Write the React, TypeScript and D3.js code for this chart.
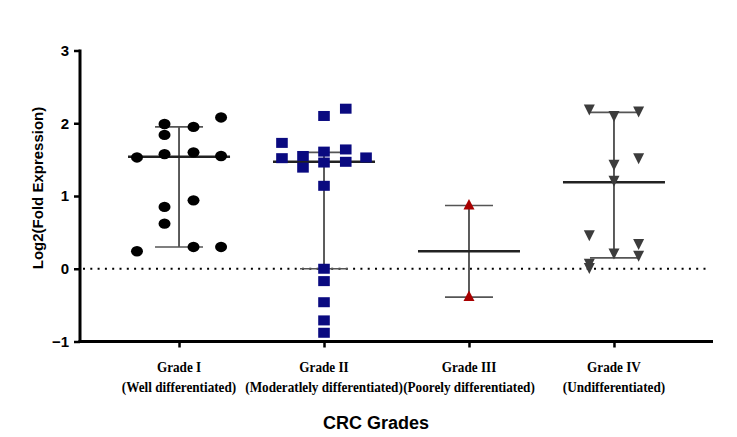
import { useEffect, useRef } from 'react';
import * as d3 from 'd3';

// ==========================================
// DATA
// ==========================================
const grades = ['Grade I', 'Grade II', 'Grade III', 'Grade IV'];
const gradeSubtitles = [
  '(Well differentiated)',
  '(Moderatlely differentiated)',
  '(Poorely differentiated)',
  '(Undifferentiated)',
];

// values per group, with the scatter column each point sits in (fraction of a step)
const grade1Values = [2.08, 1.99, 1.95, 1.84, 1.53, 1.575, 1.6, 1.55, 0.94, 0.85, 0.62, 0.24, 0.3, 0.3];
const grade1Jitter = [0.29, -0.1, 0.1, -0.1, -0.29, -0.1, 0.1, 0.29, 0.1, -0.1, -0.1, -0.29, 0.1, 0.29];

const grade2Values = [2.2, 2.1, 1.73, 1.52, 1.55, 1.39, 1.61, 1.46, 1.64, 1.47, 1.53, 1.14, 0.0, -0.17, -0.46, -0.71, -0.88];
const grade2Jitter = [0.15, 0, -0.29, -0.29, -0.145, -0.145, 0, 0, 0.15, 0.15, 0.29, 0, 0, 0, 0, 0, 0];

const grade3Values = [0.87, -0.39];
const grade3Jitter = [0, 0];

const grade4Values = [2.19, 2.1, 2.16, 1.43, 1.52, 1.21, 0.46, 0.34, 0.21, 0.18, 0.07, 0.01];
const grade4Jitter = [-0.17, 0, 0.17, 0, 0.17, 0, -0.17, 0.17, 0, 0.17, -0.17, -0.17];

// median line and error bar ends
const centerValues = [1.54, 1.47, 0.24, 1.19];
const lowValues = [0.3, 0.0, -0.39, 0.15];
const highValues = [1.95, 1.6, 0.87, 2.15];

const yTicks = [-1, 0, 1, 2, 3];

const App = () => {
  const svgRef = useRef<SVGSVGElement>(null);

  useEffect(() => {
    const width = 737;
    const height = 437;
    const margin = { top: 50.5, right: 24, bottom: 95.5, left: 80 };

    const svg = d3.select(svgRef.current);
    svg.selectAll('*').remove();
    svg.attr('width', width).attr('height', height);

    // ==========================================
    // SCALES
    // ==========================================
    const x = d3
      .scalePoint<string>()
      .domain(grades)
      .range([margin.left, width - margin.right])
      .padding(0.683);

    const y = d3
      .scaleLinear()
      .domain([-1, 3])
      .range([height - margin.bottom, margin.top]);

    const step = x.step();

    // ==========================================
    // ZERO LINE
    // ==========================================
    svg
      .append('line')
      .attr('x1', margin.left + 3)
      .attr('x2', 706)
      .attr('y1', y(0))
      .attr('y2', y(0))
      .attr('stroke', '#000')
      .attr('stroke-width', 2)
      .attr('stroke-dasharray', '2,5.3');

    // ==========================================
    // AXES
    // ==========================================
    const yAxis = svg
      .append('g')
      .attr('transform', `translate(${margin.left},0)`)
      .call(
        d3
          .axisLeft(y)
          .tickValues(yTicks)
          .tickSize(6)
          .tickPadding(5)
          .tickFormat(d3.format('d'))
      );
    yAxis.select('.domain').attr('stroke-width', 3).attr('d', `M0,${y(3) - 1}V${y(-1) + 1.5}`);
    yAxis.selectAll('.tick line').attr('stroke-width', 2.5);
    yAxis
      .selectAll('text')
      .style('font-family', 'Arial, "Liberation Sans", sans-serif')
      .style('font-size', '15px')
      .style('font-weight', 'bold')
      .style('fill', '#000');

    const xAxis = svg
      .append('g')
      .attr('transform', `translate(0,${y(-1)})`)
      .call(d3.axisBottom(x).tickSize(6).tickFormat(() => ''));
    xAxis
      .select('.domain')
      .attr('stroke-width', 3)
      .attr('d', `M${margin.left - 1.5},0H${width - margin.right}`);
    xAxis.selectAll('.tick line').attr('stroke-width', 2.5);

    // category labels (narrow, tall serif like the original)
    const labels = svg.append('g');
    grades.forEach((g, i) => {
      const t = labels
        .append('text')
        .attr('transform', `translate(${x(g)!},372) scale(0.88,1)`)
        .attr('text-anchor', 'middle')
        .style('font-family', '"Times New Roman", "Liberation Serif", serif')
        .style('font-size', '15px')
        .style('font-weight', 'bold');
      t.append('tspan').attr('x', 0).text(g);
      t.append('tspan').attr('x', 0).attr('dy', 20).text(gradeSubtitles[i]);
    });

    // axis titles
    svg
      .append('text')
      .attr('x', 376)
      .attr('y', 429)
      .attr('text-anchor', 'middle')
      .style('font-family', 'Arial, "Liberation Sans", sans-serif')
      .style('font-size', '18px')
      .style('font-weight', 'bold')
      .text('CRC Grades');

    svg
      .append('text')
      .attr('transform', `translate(43,${188}) rotate(-90)`)
      .attr('text-anchor', 'middle')
      .style('font-family', 'Arial, "Liberation Sans", sans-serif')
      .style('font-size', '15px')
      .style('font-weight', 'bold')
      .text('Log2(Fold Expression)');

    // ==========================================
    // ERROR BARS + MEDIAN
    // ==========================================
    const bars = svg.append('g');
    grades.forEach((g, i) => {
      const cx = x(g)!;
      bars
        .append('line')
        .attr('x1', cx)
        .attr('x2', cx)
        .attr('y1', y(lowValues[i]))
        .attr('y2', y(highValues[i]))
        .attr('stroke', '#333')
        .attr('stroke-width', 1.6);
      [lowValues[i], highValues[i]].forEach((v) => {
        bars
          .append('line')
          .attr('x1', cx - 24)
          .attr('x2', cx + 24)
          .attr('y1', y(v))
          .attr('y2', y(v))
          .attr('stroke', '#555')
          .attr('stroke-width', 1.6);
      });
      bars
        .append('line')
        .attr('x1', cx - 51)
        .attr('x2', cx + 51)
        .attr('y1', y(centerValues[i]))
        .attr('y2', y(centerValues[i]))
        .attr('stroke', '#222')
        .attr('stroke-width', 2.5);
    });

    // ==========================================
    // POINTS
    // ==========================================
    const pts = svg.append('g');
    const place = (values: number[], jitter: number[], g: string) =>
      values.map((v, i) => ({ cx: x(g)! + jitter[i] * step, cy: y(v) }));

    pts
      .selectAll('ellipse')
      .data(place(grade1Values, grade1Jitter, grades[0]))
      .enter()
      .append('ellipse')
      .attr('cx', (d) => d.cx)
      .attr('cy', (d) => d.cy)
      .attr('rx', 6)
      .attr('ry', 5.2)
      .attr('fill', '#000');

    pts
      .selectAll('rect')
      .data(place(grade2Values, grade2Jitter, grades[1]))
      .enter()
      .append('rect')
      .attr('x', (d) => d.cx - 5.8)
      .attr('y', (d) => d.cy - 5)
      .attr('width', 11.6)
      .attr('height', 10)
      .attr('fill', '#0a0a80');

    const triUp = 'M0,-6.5L5.5,4L-5.5,4Z';
    const triDown = 'M0,6L5.5,-5L-5.5,-5Z';

    pts
      .selectAll('path.up')
      .data(place(grade3Values, grade3Jitter, grades[2]))
      .enter()
      .append('path')
      .attr('class', 'up')
      .attr('d', triUp)
      .attr('transform', (d) => `translate(${d.cx},${d.cy})`)
      .attr('fill', '#a80000');

    pts
      .selectAll('path.down')
      .data(place(grade4Values, grade4Jitter, grades[3]))
      .enter()
      .append('path')
      .attr('class', 'down')
      .attr('d', triDown)
      .attr('transform', (d) => `translate(${d.cx},${d.cy})`)
      .attr('fill', '#3c3c3c');
  }, []);

  return (
    <div style={{ position: 'absolute', left: 0, top: 0, width: 737, height: 437, background: '#fff' }}>
      <svg ref={svgRef}></svg>
    </div>
  );
};

export default App;
